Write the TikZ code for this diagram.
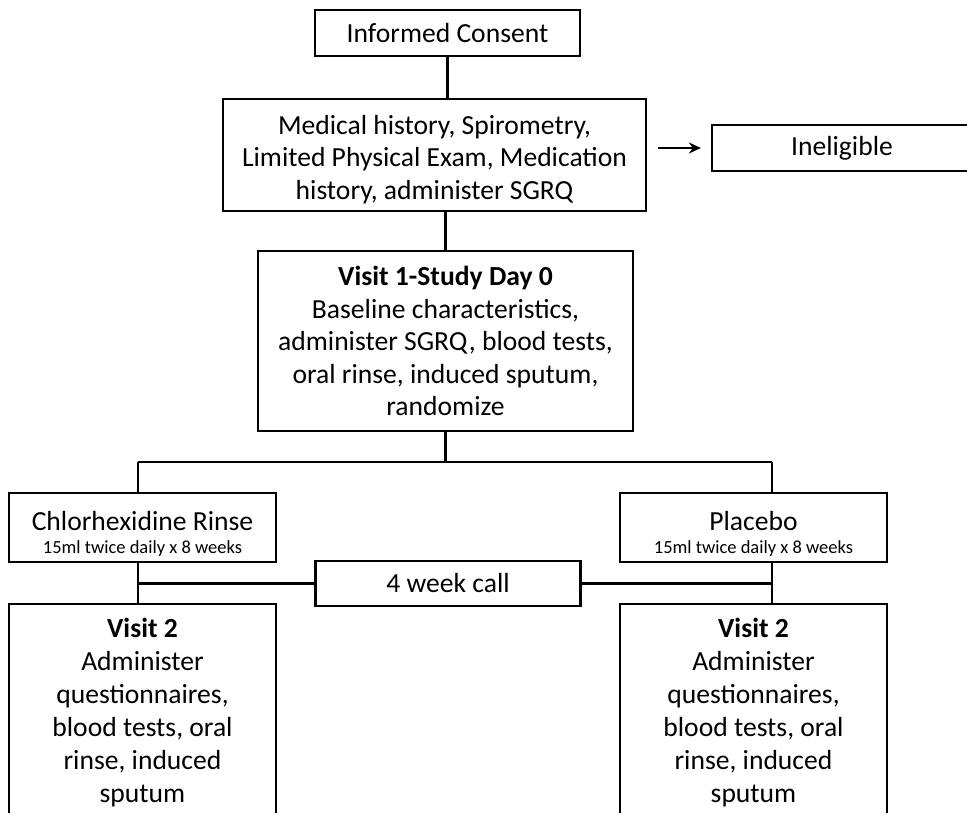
\documentclass[tikz,border=0pt]{standalone}
\usepackage{fontspec}
\setmainfont{Carlito}
\usetikzlibrary{positioning,arrows.meta}
\newcommand{\smalltxt}{\fontsize{18.5}{22}\selectfont}
\tikzset{
  >=Stealth,
  % --- edges
  e/.style  = {line width=2.2pt, draw=black},
  ea/.style = {e, -{Stealth[length=12pt,width=11pt]}},
}

\begin{document}
\begin{tikzpicture}[x=1pt,y=-1pt,
  b/.style={draw=black,line width=2.2pt,fill=white,align=center,inner sep=0pt,
            font=\fontsize{27.6}{32.5}\selectfont},
  w/.style={b,minimum width=265pt,minimum height=46pt},
  arm/.style={b,minimum width=267pt,minimum height=69pt},
  v/.style={b,minimum width=267pt,minimum height=217pt,font=\fontsize{27.6}{33}\selectfont},
]
  \useasboundingbox (0,0) rectangle (967,812);
  \clip (0,0) rectangle (967,812);
  \node[w] (cons) at (447.5,33) {Informed Consent};
  \node[b,minimum width=423pt,minimum height=112pt] (med) at (434.5,155) {\rule{0pt}{28pt}Medical history, Spirometry,\\Limited Physical Exam, Medication\\history, administer SGRQ};
  \node[w,minimum width=260pt] (inel) at (842,148) {Ineligible};
  \node[b,minimum width=375pt,minimum height=180pt] (v1) at (445.5,341) {\textbf{Visit 1-Study Day 0}\\Baseline characteristics,\\administer SGRQ, blood tests,\\oral rinse, induced sputum,\\randomize};
  \node[arm] (chlor) at (142.5,527.5) {\rule{0pt}{32pt}Chlorhexidine Rinse\\[-10pt]\smalltxt 15ml twice daily x 8 weeks};
  \node[arm] (plac) at (753.5,527.5) {\rule{0pt}{32pt}Placebo\\[-10pt]\smalltxt 15ml twice daily x 8 weeks};
  \node[w,minimum height=45pt] (call) at (448,583.5) {4 week call};
  \node[v] (v2l) at (142.5,712.5) {\textbf{Visit 2}\\Administer\\questionnaires,\\blood tests, oral\\rinse, induced\\sputum};
  \node[v] (v2r) at (753.5,712.5) {\textbf{Visit 2}\\Administer\\questionnaires,\\blood tests, oral\\rinse, induced\\sputum};
  \coordinate (bl) at (138,462);
  \coordinate (bri) at (772,462);
  \draw[e] (cons.south) -- (cons.south |- med.north);
  \draw[e] (v1.north |- med.south) -- (v1.north);
  \draw[ea] ([xshift=11pt]med.east |- inel.west) -- ([xshift=-10pt]inel.west);
  \draw[e] (v1.south) -- (v1.south |- bl);
  \draw[e] (bl) -- (bri);
  \draw[e] (bl) -- (bl |- chlor.north);
  \draw[e] (bri) -- (bri |- plac.north);
  \draw[e] (bl |- chlor.south) -- (bl |- v2l.north);
  \draw[e] (bri |- plac.south) -- (bri |- v2r.north);
  \draw[e] (call.west) -- (bl |- call.west);
  \draw[e] (call.east) -- (bri |- call.east);
\end{tikzpicture}
\end{document}
